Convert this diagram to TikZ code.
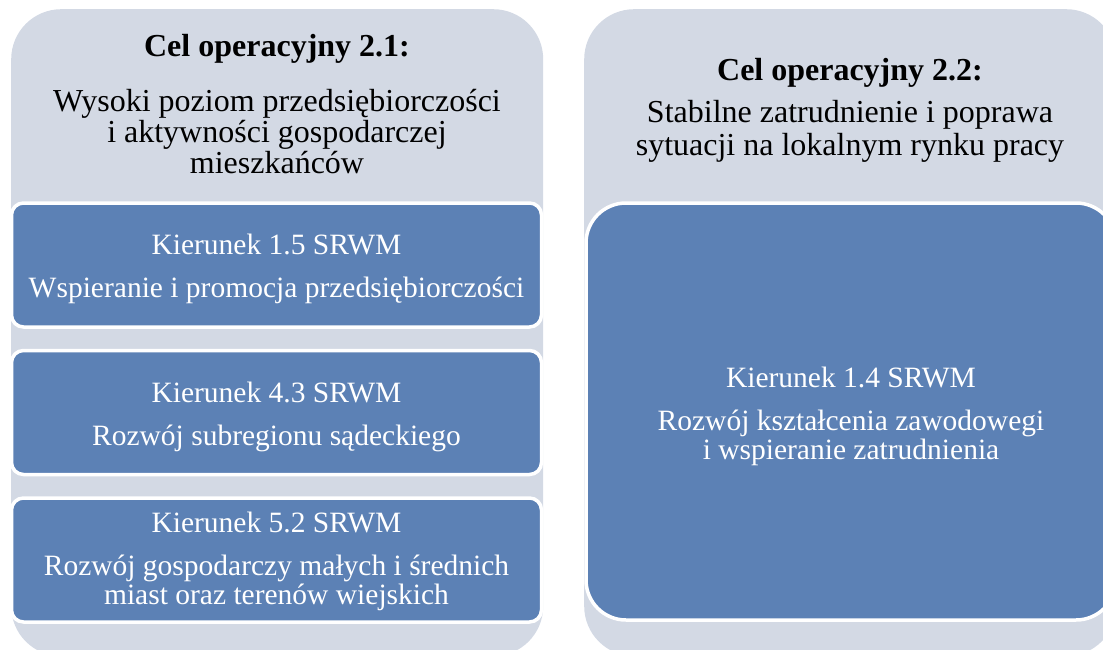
\documentclass[tikz,border=0pt]{standalone}
\usepackage{fontspec}
\setmainfont{Liberation Serif}
\usepackage{xcolor}
\usetikzlibrary{positioning}
\definecolor{goalgrey}{RGB}{211,217,228}
\definecolor{dirblue}{RGB}{92,129,181}
\newcommand{\lead}[1]{\rule{0pt}{#1}}

\begin{document}
\begin{tikzpicture}[
x=1pt, y=-1pt,
node distance=20pt,
goal/.style={fill=goalgrey, rounded corners=50pt, minimum width=532pt, minimum height=647pt, anchor=north west, inner sep=0pt},
goaltext/.style={align=center, font=\fontsize{32}{31}\selectfont, text=black},
dir/.style={draw=white, line width=3.5pt, fill=dirblue, rounded corners=12pt, minimum width=530pt, minimum height=124pt, align=center, text=white, font=\fontsize{29.5}{29}\selectfont, inner sep=0pt},
bigdir/.style={dir, rounded corners=40pt, minimum height=417pt}
]
\useasboundingbox (0,0) rectangle (1103,650);
\clip (0,0) rectangle (1103,650);
% two goal panels
\node[goal] (goalA) at (11,9) {};
\node[goal] (goalB) at (584,9) {};
\node[goaltext] (titleA) at (277,104) {\textbf{Cel operacyjny 2.1:}\\[24pt]Wysoki poziom przedsiębiorczości\\i aktywności gospodarczej\\mieszkańców};
\node[goaltext] (titleB) at (850,110) {\textbf{Cel operacyjny 2.2:}\\[11pt]Stabilne zatrudnienie i poprawa\\[2pt]sytuacji na lokalnym rynku pracy};
% directions
\node[dir] (dirA) at (276.5,265) {\lead{29pt}Kierunek 1.5 SRWM\\[14pt]Wspieranie i promocja przedsiębiorczości};
\node[dir, below=of dirA] (dirB) {\lead{29pt}Kierunek 4.3 SRWM\\[14pt]Rozwój subregionu sądeckiego};
\node[dir, below=of dirB] (dirC) {\lead{24pt}Kierunek 5.2 SRWM\\[14pt]Rozwój gospodarczy małych i średnich\\miast oraz terenów wiejskich};
\node[bigdir] (dirD) at (851,411.5) {\lead{31pt}Kierunek 1.4 SRWM\\[14pt]Rozwój kształcenia zawodowegi\\i wspieranie zatrudnienia};
\end{tikzpicture}
\end{document}
